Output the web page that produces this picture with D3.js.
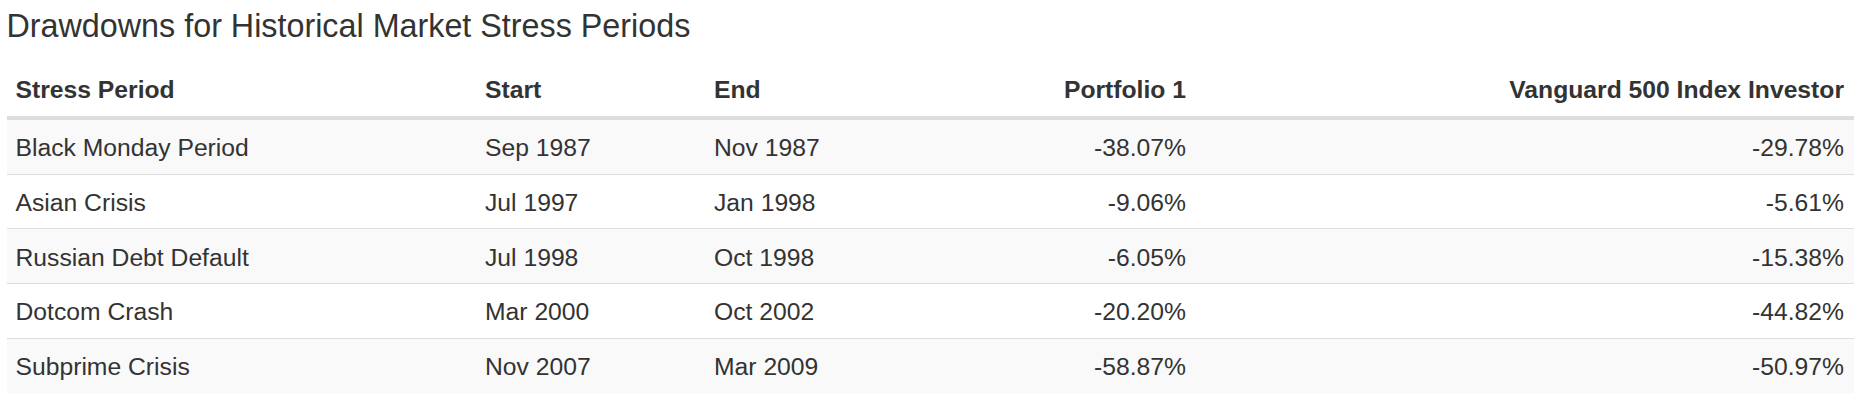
<!DOCTYPE html>
<html>
<head>
<meta charset="utf-8">
<script src="https://cdn.jsdelivr.net/npm/d3@7"></script>
<style>
  html, body { margin: 0; padding: 0; background: #fff; }
  svg { display: block; }
  svg text { font-family: Arial, "Liberation Sans", Helvetica, sans-serif; }
</style>
</head>
<body>
<div id="table1"></div>
<script>
// Drawdowns table for historical market stress periods
const periods = ["Black Monday Period", "Asian Crisis", "Russian Debt Default", "Dotcom Crash", "Subprime Crisis"];
const starts = ["Sep 1987", "Jul 1997", "Jul 1998", "Mar 2000", "Nov 2007"];
const ends = ["Nov 1987", "Jan 1998", "Oct 1998", "Oct 2002", "Mar 2009"];
const portfolio1 = [-38.07, -9.06, -6.05, -20.20, -58.87];
const vanguard500 = [-29.78, -5.61, -15.38, -44.82, -50.97];
const headers = ["Stress Period", "Start", "End", "Portfolio 1", "Vanguard 500 Index Investor"];

const width = 1869, height = 409;
const fs = 24.7;
const textColor = "#333";

const fmt = d3.formatLocale({decimal: ".", thousands: ",", grouping: [3], currency: ["$", ""], minus: "-"}).format(".2f");

const rows = periods.map((p, i) => [p, starts[i], ends[i], fmt(portfolio1[i]) + "%", fmt(vanguard500[i]) + "%"]);

// column text anchors: x position and alignment
const colX = [15.5, 485, 714, 1186, 1844];
const colAnchor = ["start", "start", "start", "end", "end"];

const y = d3.scaleBand()
    .domain(d3.range(rows.length))
    .range([120, 393.5])
    .padding(0);

const svg = d3.select("#table1")
  .append("svg")
    .attr("width", width)
    .attr("height", height)
    .attr("viewBox", [0, 0, width, height]);

// Title
svg.append("text")
    .attr("x", 6.5)
    .attr("y", 36.5)
    .attr("font-size", "32.3px")
    .attr("fill", textColor)
    .text("Drawdowns for Historical Market Stress Periods");

// Header labels
svg.append("g")
  .selectAll("text")
  .data(headers)
  .join("text")
    .attr("x", (d, i) => colX[i])
    .attr("y", 97.5)
    .attr("text-anchor", (d, i) => colAnchor[i])
    .attr("font-size", fs + "px")
    .attr("font-weight", "bold")
    .attr("fill", textColor)
    .text(d => d);

// Striped row backgrounds
svg.append("g")
  .selectAll("rect")
  .data(rows)
  .join("rect")
    .attr("x", 7)
    .attr("y", (d, i) => y(i))
    .attr("width", 1854 - 7)
    .attr("height", y.bandwidth())
    .attr("fill", (d, i) => i % 2 === 0 ? "#f9f9f9" : "#fff");

// Row separators
svg.append("g")
  .selectAll("line")
  .data(d3.range(1, rows.length))
  .join("line")
    .attr("x1", 7)
    .attr("x2", 1854)
    .attr("y1", d => Math.round(y(d)) - 0.5)
    .attr("y2", d => Math.round(y(d)) - 0.5)
    .attr("stroke", "#ddd")
    .attr("stroke-width", 1);

// Header bottom border
svg.append("rect")
    .attr("x", 7)
    .attr("y", 116)
    .attr("width", 1854 - 7)
    .attr("height", 4)
    .attr("fill", "#ddd");

// Cells
svg.append("g")
  .selectAll("g")
  .data(rows)
  .join("g")
    .attr("transform", (d, i) => `translate(0,${y(i) + y.bandwidth() / 2 + fs * 0.355})`)
  .selectAll("text")
  .data(d => d)
  .join("text")
    .attr("x", (d, i) => colX[i])
    .attr("text-anchor", (d, i) => colAnchor[i])
    .attr("font-size", fs + "px")
    .attr("fill", textColor)
    .text(d => d);
</script>
</body>
</html>
